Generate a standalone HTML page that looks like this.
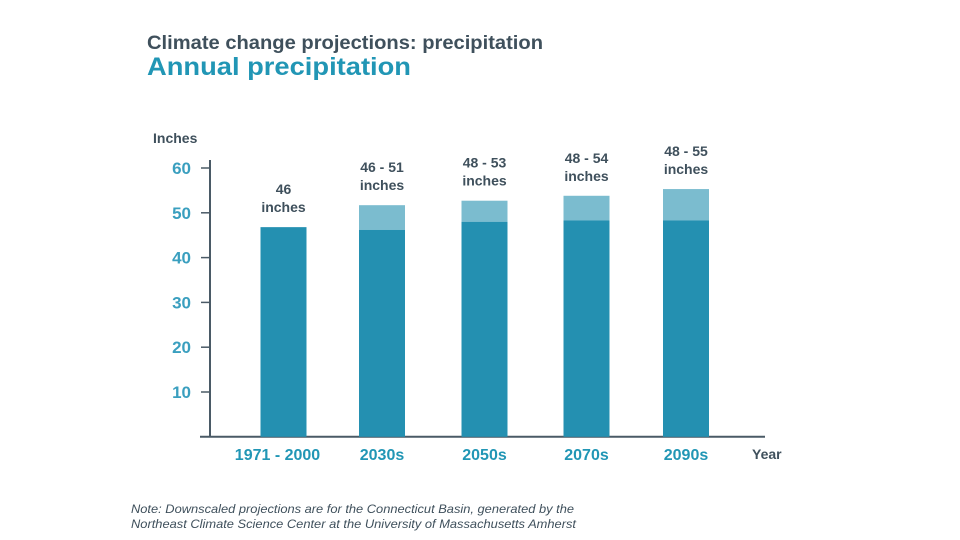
<!DOCTYPE html>
<html><head><meta charset="utf-8"><style>
body{margin:0;background:#fff;}
svg{display:block;font-family:"Liberation Sans",Arial,sans-serif;}
</style></head><body>
<svg width="960" height="540" viewBox="0 0 960 540">
<text x="147" y="49" font-size="19" font-weight="bold" fill="#3f505c" textLength="396" lengthAdjust="spacingAndGlyphs">Climate change projections: precipitation</text>
<text x="147" y="75" font-size="25" font-weight="bold" fill="#2196b5" textLength="264" lengthAdjust="spacingAndGlyphs">Annual precipitation</text>
<text x="153" y="143" font-size="14" font-weight="bold" fill="#3f505c">Inches</text>
<text x="752" y="459" font-size="14" font-weight="bold" fill="#3f505c">Year</text>
<g id="axes"></g>
<g id="bars"></g>
<text x="131" y="513" font-size="12" font-style="italic" fill="#3f505c" textLength="443" lengthAdjust="spacingAndGlyphs">Note: Downscaled projections are for the Connecticut Basin, generated by the</text>
<text x="131" y="528" font-size="12" font-style="italic" fill="#3f505c" textLength="445" lengthAdjust="spacingAndGlyphs">Northeast Climate Science Center at the University of Massachusetts Amherst</text>
</svg>
<script>
const categories=["1971 - 2000","2030s","2050s","2070s","2090s"];
const lowValues=[46.8,46.2,48,48.3,48.3];
const highValues=[46.8,51.7,52.7,53.8,55.3];
const valueLabels=[["46","inches"],["46 - 51","inches"],["48 - 53","inches"],["48 - 54","inches"],["48 - 55","inches"]];
const yTicks=[10,20,30,40,50,60];
const NS="http://www.w3.org/2000/svg";
const y0=436.8, pxPer=4.48;
function yScale(v){return y0-v*pxPer;}
const centers=[283.5,382,484.5,586.5,686];
function xScale(i){return centers[i];}
const bw=46;
function mk(tag,attrs,parent){const e=document.createElementNS(NS,tag);for(const k in attrs)e.setAttribute(k,attrs[k]);parent.appendChild(e);return e;}
const axes=document.getElementById('axes'), bars=document.getElementById('bars');
let a=mk('line',{x1:210,y1:160,x2:210,y2:y0,stroke:'#4a5a66','stroke-width':2},axes);


a=mk('line',{x1:200,y1:y0,x2:765,y2:y0,stroke:'#4a5a66','stroke-width':2},axes);


yTicks.forEach(t=>{
 const y=yScale(t);
 const l=mk('line',{x1:201,y1:y,x2:210,y2:y,stroke:'#4a5a66','stroke-width':1.5},axes);
 
 
 const tx=mk('text',{x:191,y:y+6,'font-size':17,'font-weight':'bold',fill:'#3a9fbf','text-anchor':'end'},axes);
 tx.textContent=t;
 
 
});
categories.forEach((c,i)=>{
 const cx=xScale(i);
 if(highValues[i]>lowValues[i]){
  const r=mk('rect',{x:cx-bw/2,y:yScale(highValues[i]),width:bw,height:yScale(lowValues[i])-yScale(highValues[i]),fill:'#7bbccf'},bars);
  
  
 }
 const b=mk('rect',{x:cx-bw/2,y:yScale(lowValues[i]),width:bw,height:y0-yScale(lowValues[i]),fill:'#2490b1'},bars);
 
 
 const top=yScale(highValues[i]);
 const t1=mk('text',{x:cx,y:top-33,'font-size':14,'font-weight':'bold',fill:'#3f505c','text-anchor':'middle'},bars);
 t1.textContent=valueLabels[i][0];
 
 
 const t2=mk('text',{x:cx,y:top-15,'font-size':14,'font-weight':'bold',fill:'#3f505c','text-anchor':'middle'},bars);
 t2.textContent=valueLabels[i][1];
 
 
 const xl=mk('text',{x:cx-(i==0?6:0),y:460,'font-size':16,'font-weight':'bold',fill:'#2196b5','text-anchor':'middle'},bars);
 xl.textContent=c;
 
 
});
</script>
</body></html>
